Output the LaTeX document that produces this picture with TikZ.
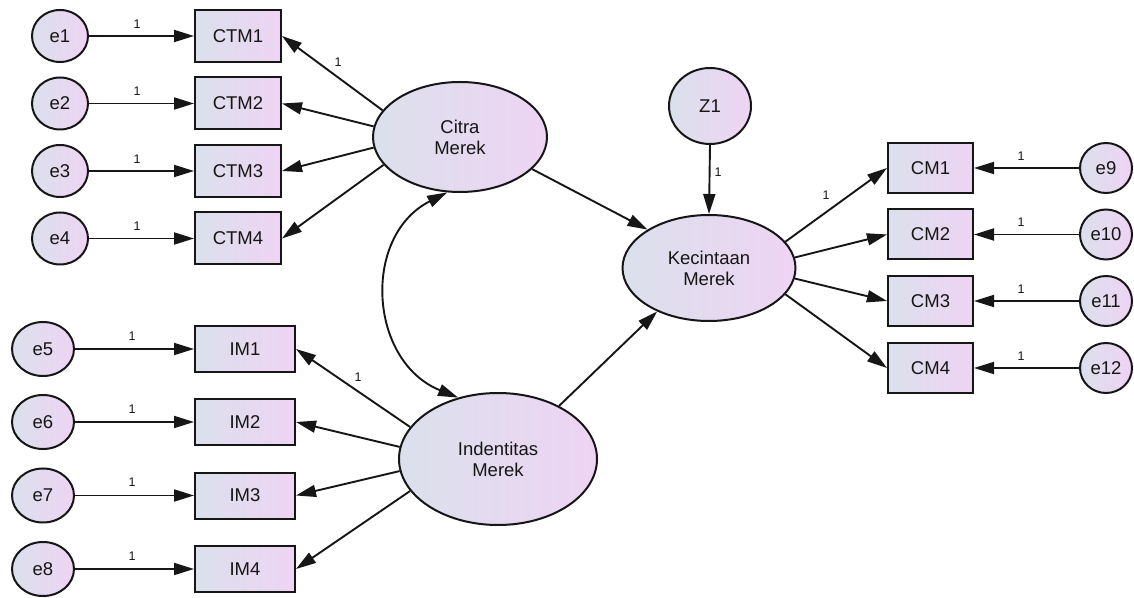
\documentclass[tikz,border=0pt]{standalone}
\usepackage{fontspec}
\setmainfont{Liberation Sans}
\usetikzlibrary{arrows.meta,shapes.geometric}
\definecolor{shL}{RGB}{219,224,236}
\definecolor{shR}{RGB}{238,212,243}
\definecolor{ink}{RGB}{22,22,22}
\begin{document}
\begin{tikzpicture}[x=1pt,y=1pt,
  obs/.style={draw=ink, line width=2pt, rectangle, left color=shL, right color=shR, inner sep=0pt, font=\fontsize{18.5}{21}\selectfont, text=ink},
  err/.style={draw=ink, line width=2pt, ellipse, left color=shL, right color=shR, inner sep=0pt, font=\fontsize{18.5}{21}\selectfont, text=ink},
  lat/.style={err, align=center},
  ctmbox/.style={obs, minimum width=86pt, minimum height=52pt},
  imbox/.style={obs, minimum width=100pt, minimum height=46pt},
  cmbox/.style={obs, minimum width=85pt, minimum height=50pt},
  eA/.style={err, minimum width=56pt, minimum height=52pt},
  eB/.style={err, minimum width=62pt, minimum height=54pt},
  eC/.style={err, minimum width=52pt, minimum height=50pt},
  arr/.style={line width=1.9pt, draw=ink, -{Triangle[length=20pt,width=12pt]}},
  lab/.style={font=\fontsize{12.5}{14}\selectfont, text=ink, inner sep=0pt}]
\useasboundingbox (0,0) rectangle (1134,597);
\fill[white] (0,0) rectangle (1134,597);

% latent variables
\node[lat, minimum width=174pt, minimum height=110pt] (citra) at (460,460) {Citra\\Merek};
\node[lat, minimum width=198pt, minimum height=132pt] (ind) at (498,138) {Indentitas\\Merek};
\node[lat, minimum width=173pt, minimum height=106pt] (kec) at (709,329) {Kecintaan\\Merek};
\node[err, minimum width=82pt, minimum height=76pt] (z1) at (710,491) {Z1};

% Citra Merek indicators
\node[ctmbox] (ctm1) at (238,561) {CTM1};
\node[ctmbox] (ctm2) at (238,493.5) {CTM2};
\node[ctmbox] (ctm3) at (238,426) {CTM3};
\node[ctmbox] (ctm4) at (238,358.5) {CTM4};
\node[eA] (e1) at (60,561) {e1};
\node[eA] (e2) at (60,493.5) {e2};
\node[eA] (e3) at (60,426) {e3};
\node[eA] (e4) at (60,358.5) {e4};

% Indentitas Merek indicators
\node[imbox] (im1) at (245,248) {IM1};
\node[imbox] (im2) at (245,175) {IM2};
\node[imbox] (im3) at (245,101.5) {IM3};
\node[imbox] (im4) at (245,28) {IM4};
\node[eB] (e5) at (43,248) {e5};
\node[eB] (e6) at (43,175) {e6};
\node[eB] (e7) at (43,101.5) {e7};
\node[eB] (e8) at (43,28) {e8};

% Kecintaan Merek indicators
\node[cmbox] (cm1) at (930.5,429) {CM1};
\node[cmbox] (cm2) at (930.5,362.5) {CM2};
\node[cmbox] (cm3) at (930.5,296) {CM3};
\node[cmbox] (cm4) at (930.5,229) {CM4};
\node[eC] (e9) at (1106,429) {e9};
\node[eC] (e10) at (1106,362.5) {e10};
\node[eC] (e11) at (1106,296) {e11};
\node[eC] (e12) at (1106,229) {e12};

% error arrows
\draw[arr] (e1.east) -- (ctm1.west);
\draw[arr] (e2.east) -- (ctm2.west);
\draw[arr] (e3.east) -- (ctm3.west);
\draw[arr] (e4.east) -- (ctm4.west);
\draw[arr] (e5.east) -- (im1.west);
\draw[arr] (e6.east) -- (im2.west);
\draw[arr] (e7.east) -- (im3.west);
\draw[arr] (e8.east) -- (im4.west);
\draw[arr] (e9.west) -- (cm1.east);
\draw[arr] (e10.west) -- (cm2.east);
\draw[arr] (e11.west) -- (cm3.east);
\draw[arr] (e12.west) -- (cm4.east);

% loadings
\draw[arr] (citra.161) -- (ctm1.east);
\draw[arr] (citra.173) -- (ctm2.east);
\draw[arr] (citra.187) -- (ctm3.east);
\draw[arr] (citra.200) -- (ctm4.east);
\draw[arr] (ind.160) -- (im1.east);
\draw[arr] (ind.173) -- (im2.east);
\draw[arr] (ind.187) -- (im3.east);
\draw[arr] (ind.200) -- (im4.east);
\draw[arr] (kec.19) -- (cm1.west);
\draw[arr] (kec.7) -- (cm2.west);
\draw[arr] (kec.-7) -- (cm3.west);
\draw[arr] (kec.-19) -- (cm4.west);

% structural paths
\draw[arr] (citra.-24) -- (kec.148);
\draw[arr] (ind.41) -- (kec.220);
\draw[arr] (z1.south) -- (kec.north);
\draw[line width=1.9pt, draw=ink, {Triangle[length=20pt,width=12pt]}-{Triangle[length=20pt,width=12pt]}]
  (citra.257) to[out=207,in=158,looseness=1.2] (ind.123);

% labels
\node[lab] (l1) at (137,573) {1};
\node[lab] (l2) at (137,505.5) {1};
\node[lab] (l3) at (137,438) {1};
\node[lab] (l4) at (137,370.5) {1};
\node[lab] (l5) at (132,261) {1};
\node[lab] (l6) at (132,188) {1};
\node[lab] (l7) at (132,114.5) {1};
\node[lab] (l8) at (132,41) {1};
\node[lab] (l9) at (1021,441) {1};
\node[lab] (l10) at (1021,374.5) {1};
\node[lab] (l11) at (1021,308) {1};
\node[lab] (l12) at (1021,241) {1};
\node[lab] (lctm) at (338,535) {1};
\node[lab] (lim) at (358,220) {1};
\node[lab] (lz) at (718,425) {1};
\node[lab] (lcm) at (826,402) {1};
\end{tikzpicture}
\end{document}
